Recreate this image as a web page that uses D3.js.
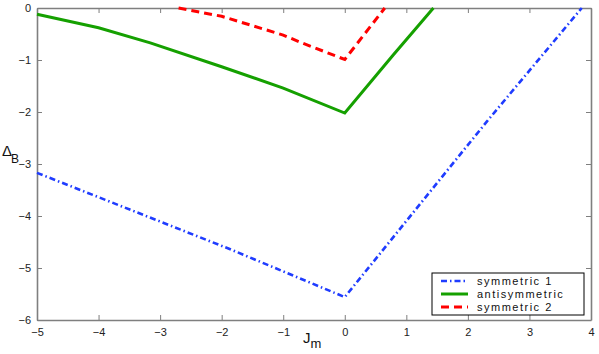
<!DOCTYPE html>
<html>
<head>
<meta charset="utf-8">
<script src="https://cdn.jsdelivr.net/npm/d3@7"></script>
<style>
  body { margin: 0; background: #fff; }
  svg { display: block; font-family: "Liberation Sans", Arial, sans-serif; }
  .axis path, .axis line { stroke: #7f7f7f; }
  .axis path { stroke-width: 1.6; }
  .axis text { fill: #222; font-size: 11px; }
</style>
</head>
<body>
<svg id="chart"></svg>
<script>
// values
const xTicks = [-5, -4, -3, -2, -1, 0, 1, 2, 3, 4];
const yTicks = [0, -1, -2, -3, -4, -5, -6];

const sym1X = [-5, -1.86, 0, 2.31, 3.85];
const sym1Y = [-3.17, -4.64, -5.56, -2.18, 0];

const antiX = [-5, -4, -3.16, -2, -1, 0, 0.79, 1.44];
const antiY = [-0.12, -0.38, -0.67, -1.13, -1.54, -2.02, -0.9, 0];

const sym2X = [-2.7, -2, -1, -0.72, 0, 0.65];
const sym2Y = [0, -0.16, -0.52, -0.66, -0.99, 0];

const seriesNames = ['symmetric 1', 'antisymmetric', 'symmetric 2'];

let W = 599, H = 354;
let margin = { top: 8, right: 8, bottom: 34, left: 37 },
    w = W - margin.left - margin.right,
    h = H - margin.top - margin.bottom;

let svg = d3.select('#chart').attr('width', W).attr('height', H);
let g = svg.append('g').attr('transform', `translate(${margin.left}, ${margin.top})`);

let x = d3.scaleLinear().domain([-5, 4]).range([0, w]);
let y = d3.scaleLinear().domain([-6, 0]).range([h, 0]);

let fmt = d => d < 0 ? '\u2212' + Math.abs(d) : String(d);

g.append('g').attr('class', 'axis')
  .attr('transform', `translate(0, ${h})`)
  .call(d3.axisBottom(x).tickValues(xTicks).tickSize(-5).tickSizeOuter(0).tickPadding(8).tickFormat(fmt));
g.append('g').attr('class', 'axis')
  .call(d3.axisLeft(y).tickValues(yTicks).tickSize(-5).tickSizeOuter(0).tickPadding(6).tickFormat(fmt));
g.append('g').attr('class', 'axis')
  .call(d3.axisTop(x).tickValues(xTicks).tickSize(-5).tickSizeOuter(0).tickFormat(''));
g.append('g').attr('class', 'axis')
  .attr('transform', `translate(${w}, 0)`)
  .call(d3.axisRight(y).tickValues(yTicks).tickSize(-5).tickSizeOuter(0).tickFormat(''));

let series = [
  { name: seriesNames[0], xs: sym1X, ys: sym1Y, color: '#1f3cff', dash: '6,3,1.5,3', width: 2.6 },
  { name: seriesNames[1], xs: antiX, ys: antiY, color: '#15a000', dash: null, width: 3 },
  { name: seriesNames[2], xs: sym2X, ys: sym2Y, color: '#ff0000', dash: '8,5', width: 3 }
];

let line = d3.line().x(d => x(d[0])).y(d => y(d[1]));

g.selectAll('.curve')
  .data(series)
  .join('path')
  .attr('class', 'curve')
  .attr('d', s => line(s.xs.map((v, i) => [v, s.ys[i]])))
  .attr('fill', 'none')
  .attr('stroke', s => s.color)
  .attr('stroke-width', s => s.width)
  .attr('stroke-dasharray', s => s.dash);

// axis labels
let yl = svg.append('text').attr('x', 2).attr('y', 156).style('font-size', '15px').attr('fill', '#111');
yl.append('tspan').text('\u0394');
yl.append('tspan').attr('dx', -1).attr('dy', 7).style('font-size', '12px').text('B');

let xl = svg.append('text').attr('x', 303).attr('y', 343).style('font-size', '15px').attr('fill', '#111');
xl.append('tspan').text('J');
xl.append('tspan').attr('dy', 5).style('font-size', '13px').text('m');

// legend
let lg = svg.append('g').attr('transform', 'translate(432, 273)');
lg.append('rect').attr('width', 152).attr('height', 42)
  .attr('fill', '#fff').attr('stroke', '#000').attr('stroke-width', 1);
let items = lg.selectAll('.item').data(series).join('g')
  .attr('class', 'item')
  .attr('transform', (d, i) => `translate(0, ${8 + i * 13})`);
items.append('line')
  .attr('x1', 9).attr('x2', 36)
  .attr('stroke', d => d.color)
  .attr('stroke-width', d => d.width)
  .attr('stroke-dasharray', d => d.dash);
items.append('text')
  .attr('x', 45).attr('y', 4)
  .style('font-size', '11px').style('letter-spacing', '1.5px').attr('fill', '#111')
  .text(d => d.name);
</script>
</body>
</html>
